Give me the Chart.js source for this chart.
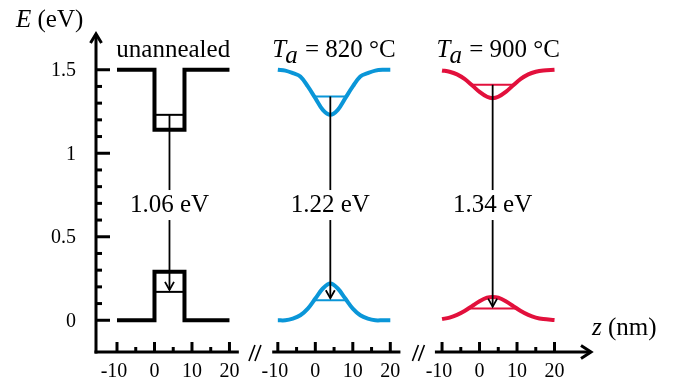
<!DOCTYPE html>
<html>
<head>
<meta charset="utf-8">
<script src="https://cdn.jsdelivr.net/npm/chart.js@4.4.1/dist/chart.umd.min.js"></script>
<style>
  html, body { margin: 0; padding: 0; background: #fff; }
  #c { display: block; }
</style>
</head>
<body>
<canvas id="c" width="684" height="386" style="width:684px;height:386px"></canvas>
<script>
// axis ticks
const zTicks = [-10, 0, 10, 20];
const zMinorTicks = [-5, 5, 15];
const eTicks = [0, 0.5, 1, 1.5];
const eTickLabels = ["0", "0.5", "1", "1.5"];
const eMinorTicks = [0.1, 0.2, 0.3, 0.4, 0.6, 0.7, 0.8, 0.9, 1.1, 1.2, 1.3, 1.4];

// unannealed (square well)
const unZ  = [-10, 0, 0, 8, 8, 20];
const unCB = [1.5, 1.5, 1.14, 1.14, 1.5, 1.5];
const unVB = [0, 0, 0.29, 0.29, 0, 0];
const unLevelZ = [0, 8];

// Ta = 820 C
const z820  = [-10, -8, -6, -4, -2, 0, 2, 4, 6, 8, 10, 12, 14, 16, 18, 20];
const cb820 = [1.5, 1.495, 1.48, 1.46, 1.40, 1.33, 1.26, 1.23, 1.26, 1.33, 1.40, 1.46, 1.48, 1.495, 1.5, 1.5];
const vb820 = [0, 0, 0.01, 0.03, 0.07, 0.13, 0.19, 0.22, 0.19, 0.13, 0.07, 0.03, 0.01, 0, 0, 0];
const levelZ820 = [-0.3, 8.3];

// Ta = 900 C
const z900  = [-10, -8, -6, -4, -2, 0, 2, 3.5, 5, 7, 9, 11, 13, 15, 17, 20];
const cb900 = [1.496, 1.488, 1.472, 1.445, 1.407, 1.367, 1.338, 1.33, 1.338, 1.367, 1.407, 1.445, 1.472, 1.488, 1.496, 1.5];
const vb900 = [0.007, 0.016, 0.032, 0.055, 0.085, 0.114, 0.135, 0.14, 0.135, 0.114, 0.085, 0.055, 0.032, 0.016, 0.007, 0.002];
const cbLevelZ900 = [-2, 9];
const vbLevelZ900 = [-3, 10];

// confined levels and transitions
const cbLevels = [1.23, 1.34, 1.41];
const vbLevels = [0.17, 0.12, 0.07];
const arrowZ = [4, 4, 3.5];
const gapLabels = ["1.06 eV", "1.22 eV", "1.34 eV"];
const panelTemps = [null, "820 °C", "900 °C"];

const panelOffset = [0, 42.9, 86.7];
const colors = ["#000000", "#0a96d8", "#e2103c"];
const SERIF = '"Liberation Serif", "Times New Roman", serif';

function pts(zs, es, off) {
  return zs.map((z, i) => ({ x: z + off, y: Array.isArray(es) ? es[i] : es }));
}
function ds(data, color, width, smooth) {
  return {
    data, borderColor: color, borderWidth: width, pointRadius: 0,
    showLine: true, fill: false, clip: false,
    borderJoinStyle: smooth ? "round" : "miter", borderCapStyle: "butt",
    tension: smooth ? 0.35 : 0
  };
}

const datasets = [
  ds(pts(unZ, unCB, panelOffset[0]), colors[0], 4, false),
  ds(pts(unZ, unVB, panelOffset[0]), colors[0], 4, false),
  ds(pts(unLevelZ, cbLevels[0], panelOffset[0]), colors[0], 2, false),
  ds(pts(unLevelZ, vbLevels[0], panelOffset[0]), colors[0], 2, false),

  ds(pts(z820, cb820, panelOffset[1]), colors[1], 4, true),
  ds(pts(z820, vb820, panelOffset[1]), colors[1], 4, true),
  ds(pts(levelZ820, cbLevels[1], panelOffset[1]), colors[1], 2, false),
  ds(pts(levelZ820, vbLevels[1], panelOffset[1]), colors[1], 2, false),

  ds(pts(z900, cb900, panelOffset[2]), colors[2], 4, true),
  ds(pts(z900, vb900, panelOffset[2]), colors[2], 4, true),
  ds(pts(cbLevelZ900, cbLevels[2], panelOffset[2]), colors[2], 2, false),
  ds(pts(vbLevelZ900, vbLevels[2], panelOffset[2]), colors[2], 2, false)
];

// axes, arrows and labels drawn by hand
const decor = {
  id: "decor",
  afterDatasetsDraw(chart) {
    const ctx = chart.ctx;
    const xs = chart.scales.x, ys = chart.scales.y;
    const X = v => xs.getPixelForValue(v);
    const Y = v => ys.getPixelForValue(v);
    const ax = X(xs.min), ay = Y(ys.min), top = Y(ys.max), right = X(xs.max);

    ctx.save();
    ctx.strokeStyle = "#000";
    ctx.fillStyle = "#000";
    ctx.lineCap = "butt";

    // y axis
    ctx.lineWidth = 3;
    ctx.beginPath();
    ctx.moveTo(ax, ay + 1.5);
    ctx.lineTo(ax, top + 1);
    ctx.stroke();
    ctx.beginPath();
    ctx.moveTo(ax - 5.5, top + 10);
    ctx.lineTo(ax, top + 1);
    ctx.lineTo(ax + 5.5, top + 10);
    ctx.stroke();

    eTicks.forEach(v => {
      ctx.beginPath(); ctx.moveTo(ax, Y(v)); ctx.lineTo(ax + 14, Y(v)); ctx.stroke();
    });
    eMinorTicks.forEach(v => {
      ctx.beginPath(); ctx.moveTo(ax, Y(v)); ctx.lineTo(ax + 6, Y(v)); ctx.stroke();
    });
    ctx.font = "20px " + SERIF;
    ctx.textAlign = "right";
    ctx.textBaseline = "middle";
    eTicks.forEach((v, i) => ctx.fillText(eTickLabels[i], ax - 20, Y(v) + 1));

    // x axis segments
    const segs = [[xs.min, 22.5], [-11.5 + panelOffset[1], 22.7 + panelOffset[1]], [-11.9 + panelOffset[2], xs.max]];
    segs.forEach(s => {
      ctx.beginPath(); ctx.moveTo(s[0] === xs.min ? ax - 1.5 : X(s[0]), ay); ctx.lineTo(X(s[1]) - (s[1] === xs.max ? 1 : 0), ay); ctx.stroke();
    });
    ctx.beginPath();
    ctx.moveTo(right - 11, ay - 6.5);
    ctx.lineTo(right - 1, ay);
    ctx.lineTo(right - 11, ay + 6.5);
    ctx.stroke();

    ctx.textAlign = "center";
    ctx.textBaseline = "alphabetic";
    panelOffset.forEach(off => {
      zTicks.forEach(z => {
        ctx.beginPath(); ctx.moveTo(X(z + off), ay); ctx.lineTo(X(z + off), ay - 10); ctx.stroke();
        ctx.fillText(String(z), X(z + off) - (z < 0 ? 3 : 0), ay + 25);
      });
      zMinorTicks.forEach(z => {
        ctx.beginPath(); ctx.moveTo(X(z + off), ay); ctx.lineTo(X(z + off), ay - 5); ctx.stroke();
      });
    });

    // axis breaks
    ctx.lineWidth = 1.6;
    [26.8, 70.4].forEach(z => {
      const bx = X(z);
      [-3, 3].forEach(dx => {
        ctx.beginPath();
        ctx.moveTo(bx + dx - 3, ay + 9);
        ctx.lineTo(bx + dx + 3, ay - 7);
        ctx.stroke();
      });
    });

    // axis titles
    ctx.textBaseline = "alphabetic";
    ctx.textAlign = "left";
    let x0 = 16;
    ctx.font = "italic 25px " + SERIF;
    ctx.fillText("E", x0, 27);
    x0 += ctx.measureText("E").width;
    ctx.font = "25px " + SERIF;
    ctx.fillText(" (eV)", x0, 27);

    x0 = 592;
    ctx.font = "italic 25px " + SERIF;
    ctx.fillText("z", x0, 335);
    x0 += ctx.measureText("z").width;
    ctx.font = "25px " + SERIF;
    ctx.fillText(" (nm)", x0, 335);

    // panel titles
    panelOffset.forEach((off, i) => {
      const cx = X(5 + off), base = 57;
      if (!panelTemps[i]) {
        ctx.font = "25px " + SERIF;
        ctx.textAlign = "center";
        ctx.fillText("unannealed", cx, base);
        return;
      }
      ctx.textAlign = "left";
      ctx.font = "italic 25px " + SERIF;
      const wT = ctx.measureText("T").width, wa = ctx.measureText("a").width;
      ctx.font = "25px " + SERIF;
      const rest = " = " + panelTemps[i];
      const wr = ctx.measureText(rest).width;
      let px = cx - (wT + wa + wr) / 2;
      ctx.font = "italic 25px " + SERIF;
      ctx.fillText("T", px, base);
      ctx.fillText("a", px + wT - 1, base + 6);
      ctx.font = "25px " + SERIF;
      ctx.fillText(rest, px + wT + wa, base);
    });

    // transition arrows
    panelOffset.forEach((off, i) => {
      const x = X(arrowZ[i] + off);
      const y1 = Y(cbLevels[i]), y2 = Y(vbLevels[i]) - 2;
      ctx.strokeStyle = "#000";
      ctx.lineWidth = 1.8;
      ctx.beginPath(); ctx.moveTo(x, y1); ctx.lineTo(x, y2); ctx.stroke();
      ctx.beginPath();
      ctx.moveTo(x - 4.5, y2 - 8); ctx.lineTo(x, y2); ctx.lineTo(x + 4.5, y2 - 8);
      ctx.stroke();

      const ly = Y(0.69);
      ctx.font = "25px " + SERIF;
      const w = ctx.measureText(gapLabels[i]).width;
      ctx.fillStyle = "#fff";
      ctx.fillRect(x - w / 2 - 2, ly - 15, w + 4, 30);
      ctx.fillStyle = "#000";
      ctx.textAlign = "center";
      ctx.textBaseline = "middle";
      ctx.fillText(gapLabels[i], x, ly);
      ctx.textBaseline = "alphabetic";
    });

    ctx.restore();
  }
};

new Chart(document.getElementById("c"), {
  type: "scatter",
  data: { datasets },
  options: {
    responsive: false,
    animation: false,
    devicePixelRatio: 1,
    events: [],
    layout: { padding: { left: 96, right: 92, top: 33, bottom: 34 } },
    scales: {
      x: { type: "linear", min: -15.6, max: 116.7, display: false },
      y: { type: "linear", min: -0.19, max: 1.72, display: false }
    },
    plugins: { legend: { display: false }, tooltip: { enabled: false } }
  },
  plugins: [decor]
});
</script>
</body>
</html>
